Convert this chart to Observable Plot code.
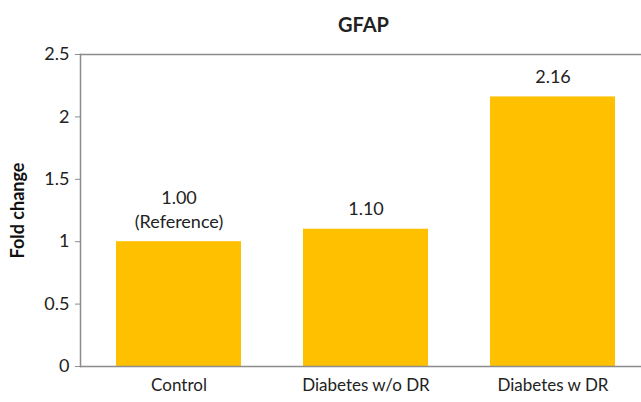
<!DOCTYPE html>
<html><head><meta charset="utf-8">
<script src="https://cdn.jsdelivr.net/npm/d3@7"></script>
<script src="https://cdn.jsdelivr.net/npm/@observablehq/plot@0.6"></script>
<style>html,body{margin:0;padding:0;background:#fff;overflow:hidden;} svg{max-width:none !important;}</style>
</head><body><div id="chart"></div>
<script>
const categories = ["Control", "Diabetes w/o DR", "Diabetes w DR"];
const values = [1.00, 1.10, 2.16];
const valueLabels = ["1.00\n(Reference)", "1.10", "2.16"];
const yTicks = [0, 0.5, 1, 1.5, 2, 2.5];
const title = "GFAP";
const yLabel = "Fold change";

const data = categories.map((c, i) => ({cat: c, value: values[i], label: valueLabels[i]}));
const font = "Lato, 'Noto Sans', sans-serif";
const axisColor = "#8c8c8c";

const chart = Plot.plot({
  width: 646, height: 402,
  marginLeft: 80, marginRight: 0, marginTop: 54, marginBottom: 36,
  style: {fontFamily: font, fontSize: "17px", color: "#222", background: "#fff", maxWidth: "none"},
  x: {domain: categories, paddingInner: 0.33, paddingOuter: 0.165, insetLeft: 5, label: null},
  y: {domain: [0, 2.5], ticks: yTicks, label: null},
  marks: [
    Plot.barY(data, {x: "cat", y: "value", fill: "#FFC000"}),
    Plot.ruleY([0, 2.5], {stroke: axisColor, strokeWidth: 1.5}),
    Plot.frame({anchor: "left", stroke: axisColor, strokeWidth: 1.5}),
    Plot.axisY({ticks: yTicks, tickSize: 5, tickPadding: 6, tickFormat: d => String(d), stroke: axisColor, fill: "#222", fontSize: 18, label: null}),
    Plot.axisX({tickSize: 0, tickPadding: 12, fontSize: 17, fill: "#222", label: null}),
    Plot.text(data, {x: "cat", y: "value", text: "label", lineAnchor: "bottom", dy: -14, fontSize: 18, fill: "#222", lineHeight: 1.3}),
    Plot.text([title], {frameAnchor: "top", dy: -37, fontSize: 20, fontWeight: "bold", fill: "#222"}),
    Plot.text([yLabel], {frameAnchor: "left", dx: -62, rotate: -90, textAnchor: "middle", fontSize: 18, fontWeight: "bold", fill: "#111"})
  ]
});
document.getElementById("chart").appendChild(chart);
</script></body></html>
